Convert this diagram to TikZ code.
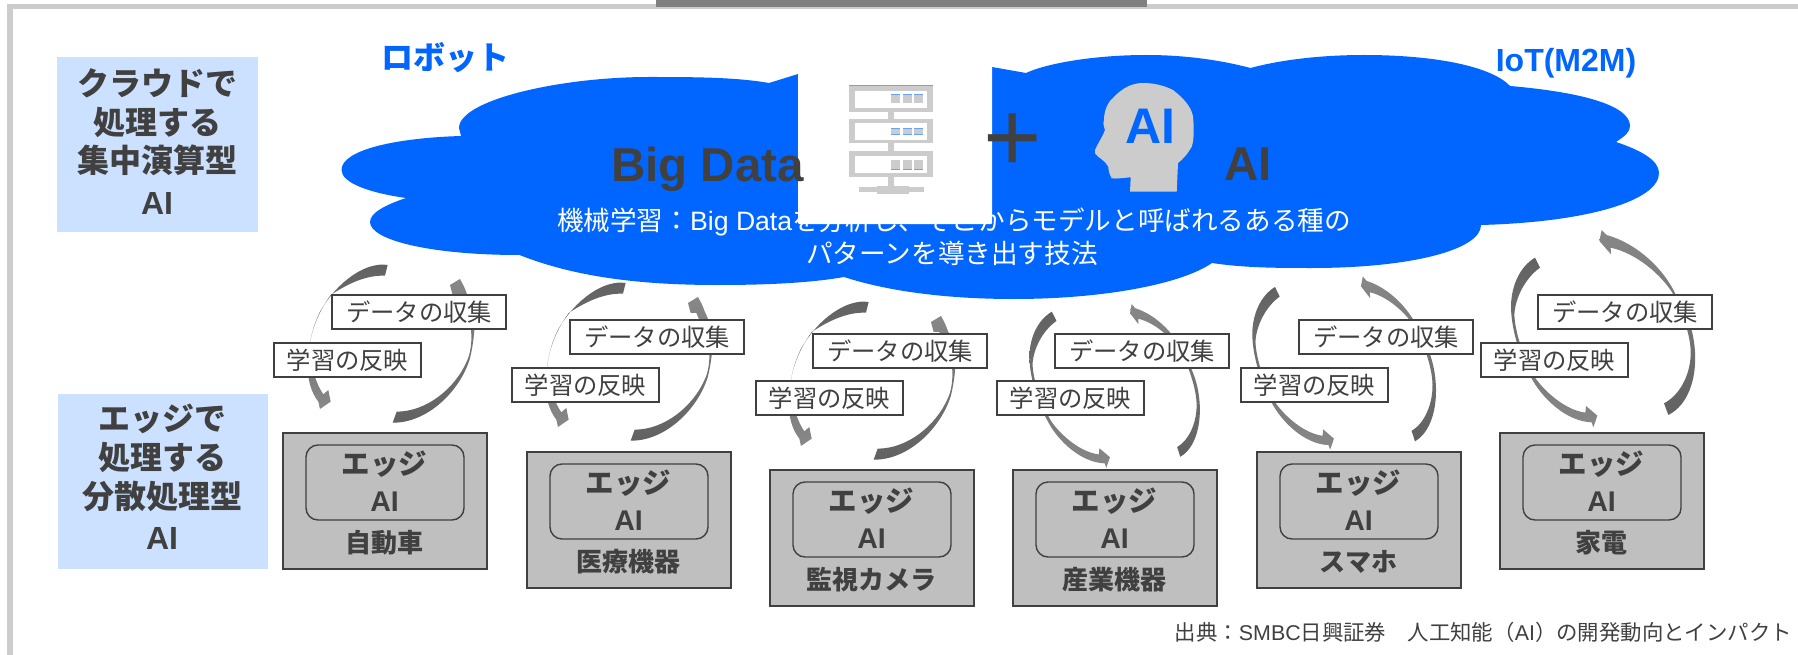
\documentclass[tikz,border=0pt]{standalone}
\usepackage{fontspec}
\setmainfont{Liberation Sans}
\newfontfamily\cjk{Noto Sans CJK JP}
\newcommand{\fs}[1]{\fontsize{#1}{#1}\selectfont}
\newcommand{\J}[1]{{\cjk #1}}
\definecolor{ink}{HTML}{404040}
\definecolor{cloudblue}{HTML}{0066FF}
\definecolor{palebl}{HTML}{CCE0FF}
\definecolor{framegr}{HTML}{CCCCCC}
\definecolor{boxgr}{HTML}{BFBFBF}
\definecolor{arrdark}{HTML}{616161}
\definecolor{arrlight}{HTML}{888888}
\tikzset{
  x=1pt,y=-1pt,
  sidebox/.style={fill=palebl,draw=none,inner sep=0,outer sep=0,anchor=north west},
  sidetxt/.style={text=ink,font=\fs{32}\bfseries,inner sep=0},
  graybox/.style={fill=boxgr,draw=ink,line width=2pt,inner sep=0,outer sep=0,anchor=north west,minimum width=204pt,minimum height=136pt},
  innerbox/.style={draw=ink,line width=1.4pt,rounded corners=12pt,inner sep=0,outer sep=0,anchor=north west,minimum width=158pt,minimum height=75pt},
  edgetxt/.style={text=ink,font=\fs{28.5}\bfseries,inner sep=0},
  devtxt/.style={text=ink,font=\fs{26}\bfseries,inner sep=0},
  lblbox/.style={fill=white,draw=ink,line width=1.6pt,inner sep=0,outer sep=0,anchor=north west,minimum height=34pt,text=ink,font=\fs{24.3}},
  iconfill/.style={fill=framegr,draw=none},
  tailtop/.style={top color=arrdark,bottom color=arrlight,draw=none},
  tailbot/.style={top color=arrlight,bottom color=arrdark,draw=none},
}
% crescent arrows: local coordinates, mapped by origin and scale
\newcommand{\arrowAL}[2]{\begin{scope}[shift={(#1,#2)},xscale=.3333,yscale=.3333]
  \path[tailtop] (353,30) .. controls (290,20) and (205,75) .. (150,170) .. controls (125,220) and (115,275) .. (113,330) .. controls (112,375) and (125,415) .. (145,440) -- (150,462) -- (182,440) -- (175,405) -- (160,418) .. controls (140,390) and (125,340) .. (116,300) .. controls (118,250) and (135,185) .. (182,120) .. controls (235,85) and (290,60) .. (345,62) -- cycle;
\end{scope}}
\newcommand{\arrowAR}[2]{\begin{scope}[shift={(#1,#2)},xscale=.3333,yscale=.3333]
  \path[tailbot] (368,503) .. controls (470,505) and (570,410) .. (600,310) .. controls (612,260) and (618,200) .. (610,170) .. controls (602,140) and (595,125) .. (590,115) .. controls (585,100) and (580,90) .. (570,72) -- (540,90) -- (548,120) -- (565,120) -- (600,200) .. controls (610,260) and (600,300) .. (590,320) .. controls (555,400) and (470,470) .. (380,470) -- cycle;
\end{scope}}
\newcommand{\arrowBL}[4]{\begin{scope}[shift={(#1,#2)},xscale=#3,yscale=#4]
  \path[tailtop] (165,98) .. controls (120,125) and (95,180) .. (93,240) .. controls (92,310) and (120,395) .. (152,455) .. controls (185,520) and (260,590) .. (335,592) -- (340,607) -- (352,572) -- (318,543) -- (316,563) .. controls (255,555) and (195,500) .. (165,458) .. controls (130,400) and (105,320) .. (103,270) .. controls (105,220) and (135,160) .. (180,128) -- cycle;
\end{scope}}
\newcommand{\arrowBR}[4]{\begin{scope}[shift={(#1,#2)},xscale=#3,yscale=#4]
  \path[tailbot] (552,535) -- (565,570) .. controls (625,540) and (650,460) .. (645,380) .. controls (640,300) and (612,250) .. (587,208) .. controls (550,130) and (470,55) .. (380,30) -- (365,15) -- (358,48) -- (393,88) -- (392,68) .. controls (470,85) and (545,150) .. (580,208) .. controls (600,250) and (635,330) .. (632,390) .. controls (630,450) and (600,510) .. (552,535) -- cycle;
\end{scope}}
% device: id, x, y (outer top left), device name
\newcommand{\device}[4]{
  \node[graybox] (box#1) at (#2+1,#3) {};
  \node[innerbox] (inner#1) at (#2+24,#3+12) {};
  \node[edgetxt] (edge#1) at (#2+102.5,#3+31) {\J{エッジ}};
  \node[edgetxt] (ai#1) at (#2+102.5,#3+69) {AI};
  \node[devtxt] (dev#1) at (#2+102.5,#3+110) {\J{#4}};
}
% labels: id, data x, data y, learn x, learn y
\newcommand{\labels}[5]{
  \node[lblbox,minimum width=174pt] (data#1) at (#2,#3) {\J{データの収集}};
  \node[lblbox,minimum width=147pt] (learn#1) at (#4,#5) {\J{学習の反映}};
}
\begin{document}
\begin{tikzpicture}
\useasboundingbox (0,0) rectangle (1798,655);
% frame
\fill[framegr] (7,4) rectangle (1798,9);
\fill[framegr] (7,4) rectangle (13,655);
\fill[black!50] (656,0) rectangle (1147,7);
% side boxes
\node[sidebox,minimum width=201pt,minimum height=175pt] (cloudside) at (57,57) {};
\node[sidebox,minimum width=210pt,minimum height=175pt] (edgeside) at (58,394) {};
\node[sidetxt] (s1) at (157,83) {\J{クラウドで}};
\node[sidetxt] (s2) at (157,123) {\J{処理する}};
\node[sidetxt] (s3) at (157,160) {\J{集中演算型}};
\node[sidetxt] (s4) at (157,203) {AI};
\node[sidetxt] (e1) at (162,419) {\J{エッジで}};
\node[sidetxt] (e2) at (162,458) {\J{処理する}};
\node[sidetxt] (e3) at (162,496) {\J{分散処理型}};
\node[sidetxt] (e4) at (162,538) {AI};
\node[text=cloudblue,font=\fs{32}\bfseries,inner sep=0] (robot) at (445,58) {\J{ロボット}};
% cloud
\fill[cloudblue] (769,83) .. controls (735,77) and (690,77) .. (649,77)
  .. controls (560,77) and (459,100) .. (459,128) -- (461,136)
  .. controls (395,138) and (341.5,150) .. (341.5,170)
  .. controls (341.5,183) and (370,193) .. (406,198)
  .. controls (385,205) and (370,213) .. (370,222)
  .. controls (370,240) and (430,255) .. (519.5,255)
  .. controls (575,277) and (640,285) .. (718,285)
  .. controls (765,285) and (810,283) .. (844,277)
  .. controls (890,292) and (950,299) .. (1014,299)
  .. controls (1100,299) and (1180,285) .. (1212,263)
  .. controls (1245,268) and (1280,268) .. (1312,268)
  .. controls (1410,268) and (1481,250) .. (1481,225)
  .. controls (1590,222) and (1659,200) .. (1659,173)
  .. controls (1659,160) and (1640,150) .. (1616,142)
  .. controls (1625,136) and (1630,132) .. (1630,126)
  .. controls (1630,105) and (1580,92) .. (1510,86)
  .. controls (1490,65) and (1430,55) .. (1364,55)
  .. controls (1320,55) and (1280,60) .. (1250.5,68)
  .. controls (1220,60) and (1185,55) .. (1146,55)
  .. controls (1100,55) and (1050,62) .. (1026,73)
  -- (992,67) -- (798,74) -- cycle;
\node[text=white,font=\fs{26.6},inner sep=0] (ml1) at (954,222) {\J{機械学習：}Big Data\J{を分析し、そこからモデルと呼ばれるある種の}};
\node[text=white,font=\fs{26.6},inner sep=0] (ml2) at (952,253) {\J{パターンを導き出す技法}};
% white panel hiding part of the cloud
\fill[white,rounded corners=1pt] (798,60) rectangle (992,224);
% server icon
\fill[framegr] (849.3,85) rectangle (932.7,111.7);
\fill[framegr] (849.3,119.3) rectangle (932.7,143.3);
\fill[framegr] (849.3,150.7) rectangle (932.7,177.3);
\fill[framegr] (888.3,111) rectangle (894,187);
\fill[framegr] (859,186.7) rectangle (924,191.7);
\fill[framegr] (876.7,186) rectangle (909.3,194);
\fill[white] (855,90.7) rectangle (927,107.7);
\fill[white] (855,123.3) rectangle (927,140);
\fill[white] (855,155.7) rectangle (927,173.3);
\foreach \sx in {891,902.7,914.3}{
  \fill[framegr] (\sx,94) rectangle (\sx+9,103.3);
  \fill[framegr] (\sx,127.7) rectangle (\sx+9,134.7);
  \fill[framegr] (\sx,160) rectangle (\sx+9,169.3);
  \fill[cloudblue!60] (\sx,94) rectangle (\sx+9,94.6);
  \fill[cloudblue!60] (\sx,127.7) rectangle (\sx+9,128.3);
  \fill[cloudblue!60] (\sx,134.2) rectangle (\sx+9,134.8);
  \fill[cloudblue!60] (\sx,168.8) rectangle (\sx+9,169.4);
}
\fill[cloudblue!60] (849.3,84.6) rectangle (932.7,85.4);
% head icon
\fill[framegr] (1130,191.7) -- (1130.7,177.3) .. controls (1122,178) and (1116,179) .. (1111.7,178.3)
  .. controls (1109,174) and (1108.5,170) .. (1108.3,166.7)
  .. controls (1105,160) and (1098,158) .. (1095,153.3)
  -- (1095,150) .. controls (1098,143) and (1103,136) .. (1105,130)
  .. controls (1103,124) and (1103,122) .. (1104,120)
  .. controls (1104,108) and (1110,100) .. (1113,98)
  .. controls (1122,88) and (1132,83) .. (1143,83)
  .. controls (1155,83) and (1165,86) .. (1173,90)
  .. controls (1186,100) and (1193.3,110) .. (1193.3,120)
  .. controls (1194,130) and (1194,140) .. (1191.7,146.7)
  .. controls (1187,155) and (1182,160) .. (1178,163)
  -- (1176.7,191.7) -- cycle;
\node[text=cloudblue,font=\fs{50}\bfseries,inner sep=0] (headai) at (1150,126) {AI};
% headings on the cloud
\node[text=ink,font=\fs{47.5}\bfseries,inner sep=0,anchor=base west] (bigdata) at (611,182) {Big Data};
\node[text=ink,font=\fs{47.5}\bfseries,inner sep=0,anchor=base west] (aiword) at (1224,181) {AI};
\node[text=ink,font=\fs{100},inner sep=0,anchor=base] (plus) at (1013,172) {+};
\node[text=cloudblue,font=\fs{32}\bfseries,inner sep=0] (iot) at (1566,63) {IoT(M2M)};
% devices
\device{1}{282}{433}{自動車}
\device{2}{526}{452}{医療機器}
\device{3}{769}{470}{監視カメラ}
\device{4}{1012}{470}{産業機器}
\device{5}{1256}{452}{スマホ}
\device{6}{1499}{433}{家電}
% crescent arrows
\arrowAL{270}{255}\arrowAR{270}{255}
\arrowAL{508}{273}\arrowAR{508}{273}
\arrowAL{751}{292}\arrowAR{751}{292}
\arrowBL{1000.5}{281.6}{.311}{.307}\arrowBR{1043}{300}{.243}{.275}
\arrowBL{1223}{255.6}{.315}{.32}\arrowBR{1267.5}{272}{.261}{.297}
\arrowBL{1480}{225}{.3333}{.3333}\arrowBR{1480}{225}{.3333}{.3333}
% labels
\labels{1}{332}{295}{274}{343}
\labels{2}{570}{320}{512}{368}
\labels{3}{813}{334}{756}{381}
\labels{4}{1055}{334}{997}{381}
\labels{5}{1299}{320}{1241}{368}
\labels{6}{1538}{295}{1481}{343}
\node[text=ink,font=\fs{21.4},inner sep=0,anchor=east] (source) at (1792,632.7) {\J{出典：}SMBC\J{日興証券　人工知能（}AI\J{）の開発動向とインパクト}};
\end{tikzpicture}
\end{document}
